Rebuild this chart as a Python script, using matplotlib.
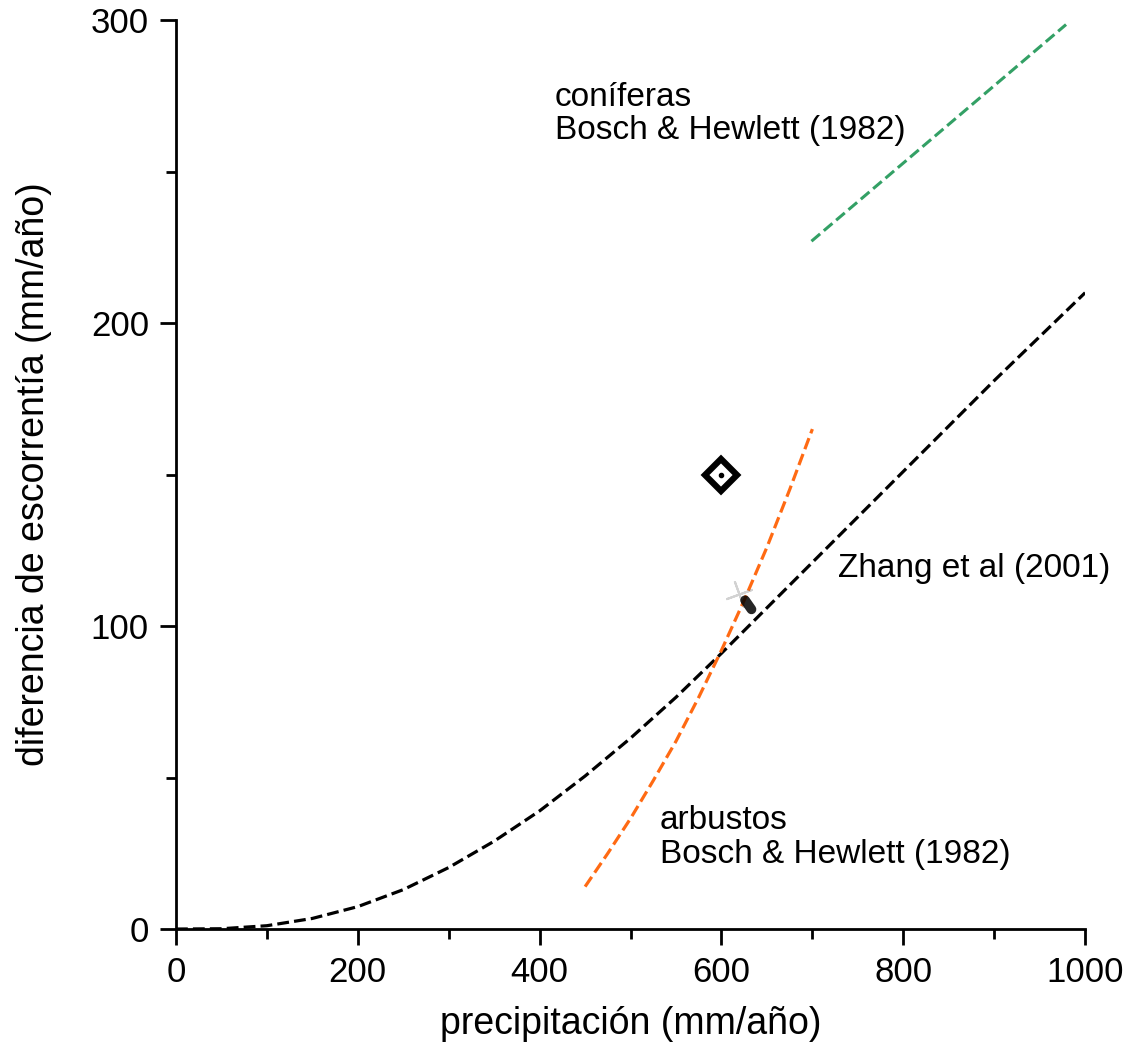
import matplotlib
matplotlib.use("Agg")
import matplotlib.pyplot as plt
from matplotlib.ticker import MultipleLocator

plt.rcParams['font.family'] = ['Liberation Sans', 'DejaVu Sans']

# Zhang et al (2001) curve
zhang_p = [0, 50, 100, 150, 200, 250, 300, 350, 400, 450, 500, 550, 600,
           650, 700, 750, 800, 850, 900, 950, 1000]
zhang_d = [0, 0.1, 1.1, 3.5, 7.4, 13, 20.3, 29, 39, 50.5, 63, 76.5, 91,
           106, 121, 136, 151, 166, 181, 195.5, 210]

# Bosch & Hewlett (1982), arbustos
arb_p = [450, 475, 500, 525, 550, 575, 600, 625, 650, 675, 700]
arb_d = [14, 25, 36.5, 49, 62, 76.5, 92, 108.5, 126, 145, 165]

# Bosch & Hewlett (1982), coniferas
con_p = [699, 979]
con_d = [227, 298.5]

# observed points
obs_p = [600]
obs_d = [150]
blob_p = [626, 633]
blob_d = [108.5, 105.5]

fig = plt.figure(figsize=(11.28, 10.42), dpi=100)
ax = fig.add_axes([0.156, 0.1084, 0.806, 0.8724])

ax.plot(zhang_p, zhang_d, '--', color='black', lw=2.3)
ax.plot(arb_p, arb_d, '--', color='#ff6a13', lw=2.3)
ax.plot(con_p, con_d, '--', color='#33a065', lw=2.2)

ax.plot(obs_p, obs_d, 'D', ms=16, mfc='white', mec='black', mew=4.5)
ax.plot(obs_p, obs_d, 'o', ms=3, color='black')
# smudged marker
ax.plot([blob_p[0] - 7], [blob_d[0] + 2], marker=(4, 2, 20), ms=20,
        color='gray', alpha=0.35, mew=1.5)
ax.plot(blob_p, blob_d, '-', color='black', lw=7, solid_capstyle='round',
        alpha=0.85)

ax.text(417, 269, 'coníferas\nBosch & Hewlett (1982)', fontsize=24,
        ha='left', va='center', linespacing=1.1)
ax.text(532.5, 30.2, 'arbustos\nBosch & Hewlett (1982)', fontsize=24,
        ha='left', va='center', linespacing=1.1)
ax.text(728, 119, 'Zhang et al (2001)', fontsize=24, ha='left', va='center')

ax.set_xlim(0, 1000)
ax.set_ylim(0, 300)
ax.xaxis.set_major_locator(MultipleLocator(200))
ax.xaxis.set_minor_locator(MultipleLocator(100))
ax.yaxis.set_major_locator(MultipleLocator(100))
ax.yaxis.set_minor_locator(MultipleLocator(50))
ax.tick_params(which='major', direction='out', length=11.5, width=2,
               labelsize=25, pad=8)
ax.tick_params(which='minor', direction='out', length=7, width=2)
for s in ['top', 'right']:
    ax.spines[s].set_visible(False)
for s in ['left', 'bottom']:
    ax.spines[s].set_linewidth(2)

ax.set_xlabel('precipitación (mm/año)', fontsize=27, labelpad=12)
ax.set_ylabel('diferencia de escorrentía (mm/año)', fontsize=27, labelpad=28)

plt.savefig('out.png', dpi=100)
